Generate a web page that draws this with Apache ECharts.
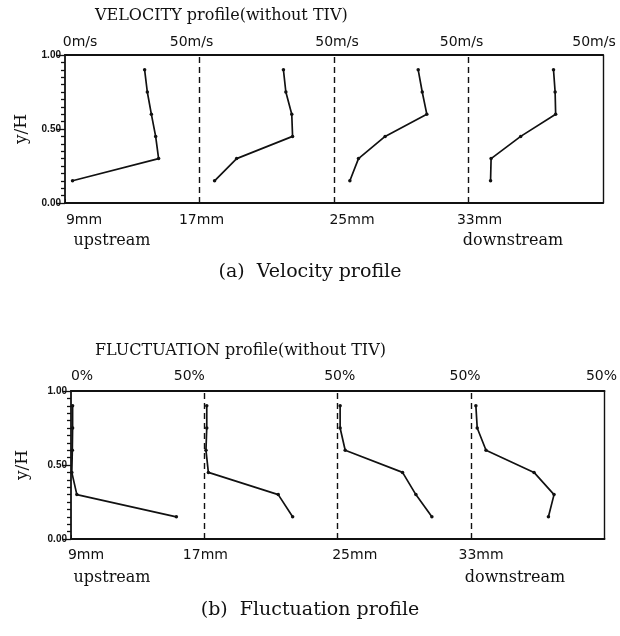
<!DOCTYPE html>
<html><head><meta charset="utf-8">
<script src="https://cdn.jsdelivr.net/npm/echarts@6/dist/echarts.min.js"></script>
<style>html,body{margin:0;padding:0;background:#fff}#c{width:620px;height:636px}</style>
</head><body><div id="c"></div>
<script>
// ---- data ----
const stations = ['9mm', '17mm', '25mm', '33mm'];
const yLevels = [0.15, 0.30, 0.45, 0.60, 0.75, 0.90];
// velocity (m/s), full scale of each panel = 50 m/s
const vel9mm  = [2.8, 34.8, 33.7, 32.1, 30.6, 29.6];
const vel17mm = [5.6, 13.8, 34.6, 34.3, 32.1, 31.2];
const vel25mm = [5.9, 9.1, 19.0, 34.5, 32.8, 31.3];
const vel33mm = [8.2, 8.4, 19.4, 32.4, 32.2, 31.6];
// fluctuation (%), full scale of each panel = 50 %
const fluc9mm  = [39.5, 2.2, 0.3, 0.5, 0.6, 0.6];
const fluc17mm = [33.1, 27.7, 1.5, 0.6, 0.9, 0.9];
const fluc25mm = [35.3, 29.3, 24.3, 2.8, 0.9, 0.9];
const fluc33mm = [29.0, 31.1, 23.6, 5.6, 2.3, 1.8];
const velTopLabels  = ['0m/s', '50m/s', '50m/s', '50m/s', '50m/s'];
const flucTopLabels = ['0%', '50%', '50%', '50%', '50%'];
const panelBounds = [1, 2, 3];
const FULL_SCALE = 50;

// ---- helpers ----
const INK = '#111';
const SANS = '"DejaVu Sans", sans-serif';
const SERIF = '"DejaVu Serif", serif';
function toPanel(values, idx) {
  return values.map((v, i) => [idx + v / FULL_SCALE, yLevels[i]]);
}
function richFor(offsets, size) {
  const r = {};
  offsets.forEach((d, i) => {
    r['o' + i] = { fontFamily: SANS, fontSize: size, color: INK,
      padding: d >= 0 ? [0, 0, 0, 2 * d] : [0, -2 * d, 0, 0] };
  });
  return r;
}
function labelFmt(labels) {
  return function (v) {
    const i = Math.round(v);
    const t = labels[i];
    return t ? '{o' + i + '|' + t + '}' : '';
  };
}

function axesFor(g, topLabels, topOffsets, topMargin, botOffsets, botMargin, nameGap) {
  const x = [
    { gridIndex: g, type: 'value', min: 0, max: 4, interval: 1, position: 'bottom',
      axisLine: { onZero: false, lineStyle: { color: INK, width: 2 } },
      axisTick: { show: true, inside: true, length: 4, lineStyle: { color: INK, width: 1 } },
      splitLine: { show: false },
      axisLabel: { margin: botMargin, formatter: labelFmt(stations), rich: richFor(botOffsets, 14) } },
    { gridIndex: g, type: 'value', min: 0, max: 4, interval: 1, position: 'top',
      axisLine: { onZero: false, lineStyle: { color: INK, width: 2 } },
      axisTick: { show: false }, splitLine: { show: false },
      axisLabel: { margin: topMargin, formatter: labelFmt(topLabels), rich: richFor(topOffsets, 14) } }
  ];
  const y = [
    { gridIndex: g, type: 'value', min: 0, max: 1, interval: 0.5, position: 'left',
      name: 'y/H', nameLocation: 'middle', nameGap: nameGap, nameRotate: 90,
      nameTextStyle: { fontFamily: SERIF, fontSize: 17, color: INK },
      axisLine: { show: true, onZero: false, lineStyle: { color: INK, width: 1.8 } },
      axisTick: { show: true, length: 8, lineStyle: { color: INK, width: 1.3 } },
      minorTick: { show: true, splitNumber: 10, length: 4, lineStyle: { color: INK, width: 1.3 } },
      splitLine: { show: false }, minorSplitLine: { show: false },
      axisLabel: { margin: 4, fontFamily: '"Liberation Sans", sans-serif', fontWeight: 'bold',
        fontSize: 10, color: INK, formatter: v => v.toFixed(2) } },
    { gridIndex: g, type: 'value', min: 0, max: 1, position: 'right',
      axisLine: { show: true, onZero: false, lineStyle: { color: INK, width: 1.4 } },
      axisTick: { show: false }, axisLabel: { show: false }, splitLine: { show: false } }
  ];
  return { x, y };
}

const a1 = axesFor(0, velTopLabels, [15, -8, 3, -7, -9], 6, [19, 2, 18, 11], 10, 35);
const a2 = axesFor(1, flucTopLabels, [11, -15, 2, -6, -3], 8, [15, 1, 17, 10], 9, 40);

function profileSeries(arrs, g) {
  const out = arrs.map((arr, idx) => ({
    type: 'line', xAxisIndex: g * 2, yAxisIndex: g * 2,
    data: toPanel(arr, idx), symbol: 'circle', symbolSize: 3.5,
    itemStyle: { color: INK }, lineStyle: { color: INK, width: 1.7 },
    silent: true, animation: false
  }));
  out[0].markLine = {
    silent: true, symbol: 'none', label: { show: false },
    lineStyle: { color: INK, type: [6, 4], width: 1.4 },
    data: panelBounds.map(b => ({ xAxis: b }))
  };
  return out;
}

const option = {
  backgroundColor: '#fff',
  animation: false,
  title: [
    { text: 'VELOCITY profile(without TIV)', left: 90, top: 3,
      textStyle: { fontFamily: SERIF, fontSize: 16, fontWeight: 'normal', color: INK } },
    { text: '(a)  Velocity profile', left: 'center', top: 258,
      textStyle: { fontFamily: SERIF, fontSize: 19, fontWeight: 'normal', color: INK } },
    { text: 'FLUCTUATION profile(without TIV)', left: 90, top: 338,
      textStyle: { fontFamily: SERIF, fontSize: 16, fontWeight: 'normal', color: INK } },
    { text: '(b)  Fluctuation profile', left: 'center', top: 596,
      textStyle: { fontFamily: SERIF, fontSize: 19, fontWeight: 'normal', color: INK } }
  ],
  grid: [
    { left: 65, top: 55, width: 538, height: 148 },
    { left: 71, top: 391, width: 535, height: 148 }
  ],
  xAxis: a1.x.concat(a2.x),
  yAxis: a1.y.concat(a2.y),
  series: profileSeries([vel9mm, vel17mm, vel25mm, vel33mm], 0)
    .concat(profileSeries([fluc9mm, fluc17mm, fluc25mm, fluc33mm], 1)),
  graphic: [
    { type: 'text', x: 112, y: 241, style: { text: 'upstream', fontFamily: SERIF, fontSize: 16, fill: INK, align: 'center', verticalAlign: 'middle' } },
    { type: 'text', x: 513, y: 241, style: { text: 'downstream', fontFamily: SERIF, fontSize: 16, fill: INK, align: 'center', verticalAlign: 'middle' } },
    { type: 'text', x: 112, y: 578, style: { text: 'upstream', fontFamily: SERIF, fontSize: 16, fill: INK, align: 'center', verticalAlign: 'middle' } },
    { type: 'text', x: 515, y: 578, style: { text: 'downstream', fontFamily: SERIF, fontSize: 16, fill: INK, align: 'center', verticalAlign: 'middle' } }
  ]
};
const chart = echarts.init(document.getElementById('c'), null, { renderer: 'canvas' });
chart.setOption(option);
</script></body></html>
